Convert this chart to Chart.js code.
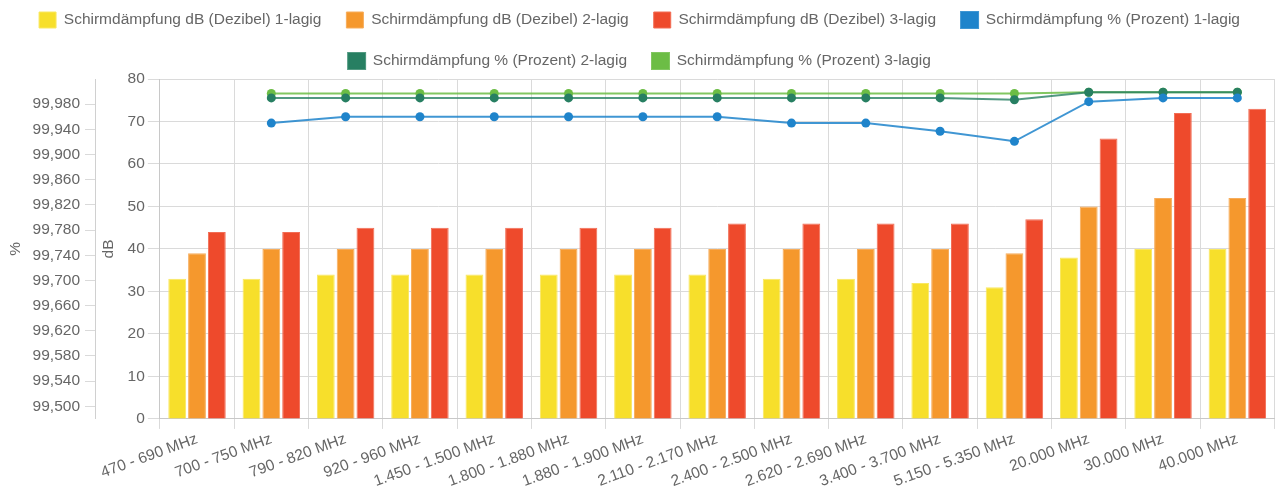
<!DOCTYPE html>
<html>
<head>
<meta charset="utf-8">
<script src="https://cdn.jsdelivr.net/npm/chart.js@4/dist/chart.umd.min.js"></script>
<style>
    body { margin: 0; background: #fff; }
    #wrap { width: 1279px; height: 490px; }
</style>
</head>
<body>
<div id="wrap"><canvas id="chart"></canvas></div>
<script>
// Frequenzbereiche
const labels = [
    '470 - 690 MHz', '700 - 750 MHz', '790 - 820 MHz', '920 - 960 MHz',
    '1.450 - 1.500 MHz', '1.800 - 1.880 MHz', '1.880 - 1.900 MHz', '2.110 - 2.170 MHz',
    '2.400 - 2.500 MHz', '2.620 - 2.690 MHz', '3.400 - 3.700 MHz', '5.150 - 5.350 MHz',
    '20.000 MHz', '30.000 MHz', '40.000 MHz'
];

// Schirmdämpfung in dB
const db1 = [33, 33, 34, 34, 34, 34, 34, 34, 33, 33, 32, 31, 38, 40, 40];
const db2 = [39, 40, 40, 40, 40, 40, 40, 40, 40, 40, 40, 39, 50, 52, 52];
const db3 = [44, 44, 45, 45, 45, 45, 45, 46, 46, 46, 46, 47, 66, 72, 73];

// Schirmdämpfung in %
const pct1 = [null, 99.95, 99.96, 99.96, 99.96, 99.96, 99.96, 99.96, 99.95, 99.95, 99.937, 99.921, 99.984, 99.99, 99.99];
const pct2 = [null, 99.99, 99.99, 99.99, 99.99, 99.99, 99.99, 99.99, 99.99, 99.99, 99.99, 99.987, 99.999, 99.999, 99.999];
const pct3 = [null, 99.997, 99.997, 99.997, 99.997, 99.997, 99.997, 99.997, 99.997, 99.997, 99.997, 99.997, 99.999, 99.999, 99.999];

// Achsen
const dbTicks = [0, 10, 20, 30, 40, 50, 60, 70, 80];
const pctTicks = [99.5, 99.54, 99.58, 99.62, 99.66, 99.7, 99.74, 99.78, 99.82, 99.86, 99.9, 99.94, 99.98];

const font = { family: "'Liberation Sans', Arial, sans-serif", size: 15.5 };
const textColor = '#666';
const gridColor = '#dadada';

function barSet(label, data, color, border) {
    return {
        type: 'bar',
        label: label,
        data: data,
        yAxisID: 'y',
        backgroundColor: color,
        borderColor: border,
        borderWidth: 1
    };
}

function lineSet(label, data, color, line) {
    return {
        type: 'line',
        label: label,
        data: data,
        yAxisID: 'pct',
        backgroundColor: color,
        borderColor: line,
        pointBackgroundColor: color,
        pointBorderColor: color,
        pointRadius: 4.5,
        pointBorderWidth: 0,
        borderWidth: 2,
        tension: 0,
        fill: false
    };
}

const ctx = document.getElementById('chart').getContext('2d');
new Chart(ctx, {
    type: 'bar',
    data: {
        labels: labels,
        datasets: [
            barSet('Schirmdämpfung dB (Dezibel) 1-lagig', db1, '#f7df2b', '#f9e862'),
            barSet('Schirmdämpfung dB (Dezibel) 2-lagig', db2, '#f5982d', '#f7ad5c'),
            barSet('Schirmdämpfung dB (Dezibel) 3-lagig', db3, '#ee4a2c', '#f26d55'),
            lineSet('Schirmdämpfung % (Prozent) 1-lagig', pct1, '#1f84cb', 'rgba(31,132,203,0.85)'),
            lineSet('Schirmdämpfung % (Prozent) 2-lagig', pct2, '#277f62', 'rgba(39,127,98,0.8)'),
            lineSet('Schirmdämpfung % (Prozent) 3-lagig', pct3, '#6cbd45', 'rgba(108,189,69,0.85)')
        ]
    },
    options: {
        responsive: true,
        maintainAspectRatio: false,
        devicePixelRatio: 1,
        animation: false,
        layout: {
            padding: { top: -13, left: 0, right: 0, bottom: -2 }
        },
        plugins: {
            legend: {
                position: 'top',
                labels: {
                    font: font,
                    color: textColor,
                    boxWidth: 17,
                    boxHeight: 16,
                    padding: 25
                }
            },
            tooltip: { enabled: false }
        },
        scales: {
            x: {
                grid: { color: gridColor, tickLength: 10, offset: true },
                border: { color: '#c8c8c8' },
                ticks: {
                    font: font,
                    color: textColor,
                    minRotation: 20,
                    maxRotation: 20,
                    autoSkip: false,
                    padding: 1
                }
            },
            y: {
                position: 'left',
                weight: 0,
                min: 0,
                max: 80,
                afterBuildTicks: (axis) => {
                    axis.ticks = dbTicks.map(v => ({ value: v }));
                },
                grid: { color: gridColor, tickLength: 12 },
                border: { color: '#c8c8c8' },
                title: {
                    display: true,
                    text: 'dB',
                    font: font,
                    color: textColor,
                    padding: { top: 4, bottom: 7 }
                },
                ticks: { font: font, color: textColor, padding: 3 }
            },
            pct: {
                position: 'left',
                weight: 1,
                min: 99.48,
                max: 100.02,
                afterBuildTicks: (axis) => {
                    axis.ticks = pctTicks.map(v => ({ value: v }));
                },
                grid: { drawOnChartArea: false, color: gridColor, tickLength: 10 },
                border: { color: '#d0d0d0' },
                title: {
                    display: true,
                    text: '%',
                    font: font,
                    color: textColor,
                    padding: { top: 6, bottom: 3 }
                },
                ticks: {
                    font: font,
                    color: textColor,
                    padding: 5,
                    callback: (v) => v.toFixed(3).replace('.', ',')
                }
            }
        }
    }
});
</script>
</body>
</html>
